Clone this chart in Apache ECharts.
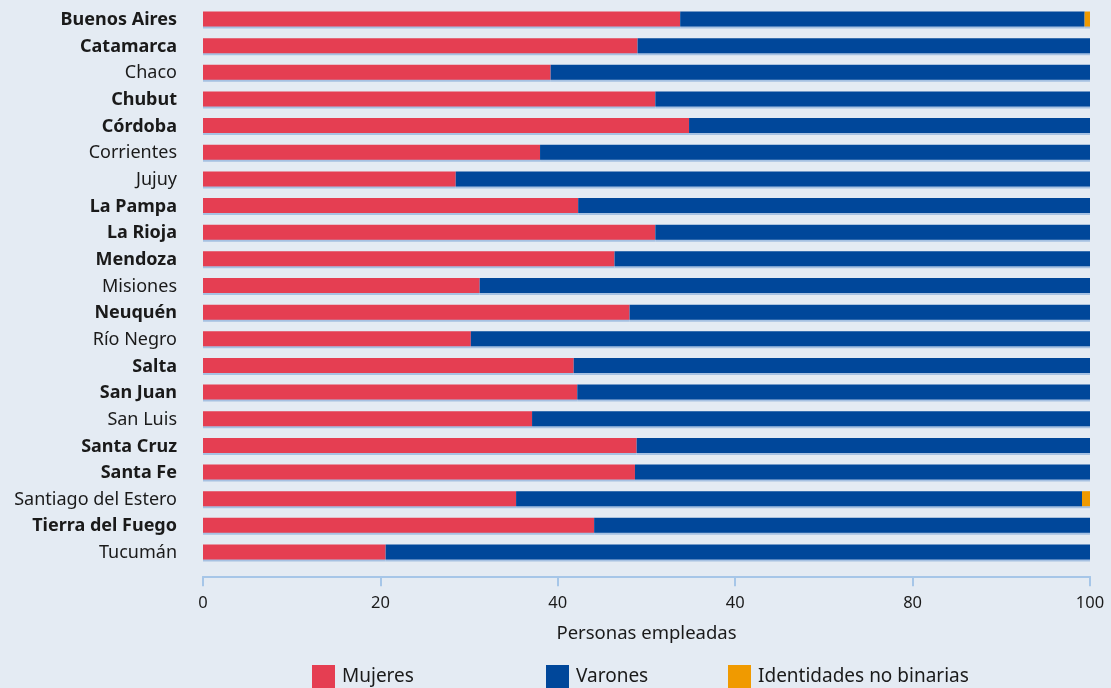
<!DOCTYPE html>
<html>
<head>
<meta charset="utf-8">
<script src="https://cdn.jsdelivr.net/npm/echarts@6/dist/echarts.min.js"></script>
<style>
html,body{margin:0;padding:0;background:#e4ebf3;}
#c{width:1111px;height:688px;}
</style>
</head>
<body>
<div id="c"></div>
<script>
const provinces = ["Buenos Aires","Catamarca","Chaco","Chubut","Córdoba","Corrientes","Jujuy","La Pampa","La Rioja","Mendoza","Misiones","Neuquén","Río Negro","Salta","San Juan","San Luis","Santa Cruz","Santa Fe","Santiago del Estero","Tierra del Fuego","Tucumán"];
const boldProvinces = ["Buenos Aires","Catamarca","Chubut","Córdoba","La Pampa","La Rioja","Mendoza","Neuquén","Salta","San Juan","Santa Cruz","Santa Fe","Tierra del Fuego"];
const mujeres = [53.8,49.0,39.2,51.0,54.8,38.0,28.5,42.3,51.0,46.4,31.2,48.1,30.2,41.8,42.2,37.1,48.9,48.7,35.3,44.1,20.6];
const varones = [45.6,51.0,60.8,49.0,45.2,62.0,71.6,57.8,49.1,53.7,68.9,52.0,69.9,58.3,57.9,63.0,51.2,51.4,63.8,56.0,79.5];
const noBinarias = [0.6,0,0,0,0,0,0,0,0,0,0,0,0,0,0,0,0,0,0.9,0,0];
const tickLabels = ["0","20","40","40","80","100"];
const seriesNames = ["Mujeres","Varones","Identidades no binarias"];

const colors = ["#e53e52","#00479a","#f09a00"];
const font = "Noto Sans";
const shadow = {shadowColor:"#a6c1e2", shadowOffsetY:2, shadowBlur:0};

const chart = echarts.init(document.getElementById('c'), null, {renderer:'canvas'});
const dataSets = [mujeres, varones, noBinarias];
const legendLefts = [312, 546, 728];

chart.setOption({
  backgroundColor: "#e4ebf3",
  animation: false,
  textStyle: {fontFamily: font},
  grid: {left: 203, right: 21, top: 5.7, bottom: 122.7, outerBoundsMode: 'none', containLabel: false},
  legend: seriesNames.map((n, i) => ({
    data: [n], left: legendLefts[i], top: 665, padding: 0,
    icon: 'rect', itemWidth: 23, itemHeight: 23, itemGap: 8,
    textStyle: {fontFamily: font, fontSize: 19, color: "#1a1a1a", padding: [0,0,0,2]}
  })),
  xAxis: {
    type: 'value', min: 0, max: 100, interval: 20, offset: 11,
    name: "Personas empleadas", nameLocation: 'middle', nameGap: 48,
    nameTextStyle: {fontFamily: font, fontSize: 18.5, color: "#1a1a1a"},
    axisLine: {show: true, lineStyle: {color: "#a6c6e8", width: 2}},
    axisTick: {show: true, length: 10, lineStyle: {color: "#a6c6e8", width: 2}},
    splitLine: {show: false},
    axisLabel: {margin: 18, fontFamily: font, fontSize: 16.5, color: "#1a1a1a",
      formatter: v => tickLabels[Math.round(v / 20)]}
  },
  yAxis: {
    type: 'category', data: provinces, inverse: true,
    axisLine: {show: false}, axisTick: {show: false},
    axisLabel: {
      margin: 26, fontSize: 18, color: "#1a1a1a",
      formatter: v => boldProvinces.includes(v) ? '{b|' + v + '}' : '{r|' + v + '}',
      rich: {
        b: {fontFamily: font, fontSize: 18, fontWeight: 'bold', color: "#1a1a1a", padding: [2,0,0,0]},
        r: {fontFamily: font, fontSize: 18, fontWeight: 'normal', color: "#1a1a1a", padding: [2,0,0,0]}
      }
    }
  },
  series: seriesNames.map((n, i) => ({
    name: n, type: 'bar', stack: 'total', barWidth: 15,
    itemStyle: Object.assign({color: colors[i]}, shadow),
    data: dataSets[i]
  }))
});
</script>
</body>
</html>
